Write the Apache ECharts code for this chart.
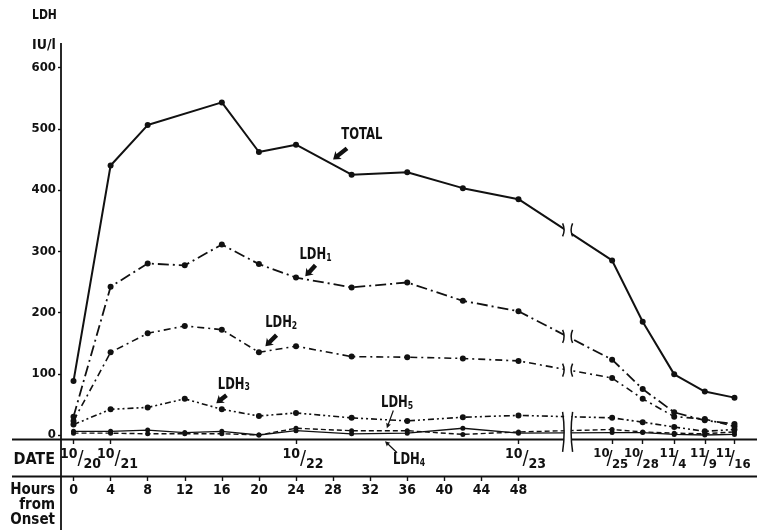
<!DOCTYPE html>
<html><head><meta charset="utf-8">
<script src="https://cdn.jsdelivr.net/npm/echarts@6/dist/echarts.min.js"></script>
<style>html,body{margin:0;padding:0;background:#fff}#c{width:757px;height:530px}</style>
</head><body><div id="c"></div>
<script>
// ---------- data ----------
// x positions in "hours from onset" units; dates after the axis break share the same scale
const sampleX = [0, 4, 8, 12, 16, 20, 24, 30, 36, 42, 48, 58.1, 61.4, 64.8, 68.1, 71.3];
const totalLDH = [88, 440, 506, null, 543, 462, 474, 425, 429, 403, 385, 285, 185, 99, 71, 61];
const ldh1 = [30, 242, 280, 277, 311, 279, 257, 241, 249, 219, 202, 123, 75, 37, 24, 18];
const ldh2 = [23, 135, 166, 178, 172, 135, 145, 128, 127, 125, 121, 93, 59, 30, 26, 14];
const ldh3 = [17, 42, 45, 59, 42, 31, 36, 28, 23, 29, 32, 28, 21, 13, 6, 9];
const ldh4 = [6, 6, 8, 4, 6, 0, 7, 2, 3, 11, 3, 4, 4, 1, 0, 1];
const ldh5 = [3, 3, 2, 2, 2, 0, 11, 7, 7, 1, 5, 9, 5, 3, 2, 5];

const hourTicks = [0, 4, 8, 12, 16, 20, 24, 28, 32, 36, 40, 44, 48];
const dateTickX = [0, 4, 24, 48, 58.1, 61.4, 64.8, 68.1, 71.3];
const dateLabels = ['10/20', '10/21', '10/22', '10/23', '10/25', '10/28', '11/4', '11/9', '11/16'];
const yTicks = [0, 100, 200, 300, 400, 500, 600];

// axis break position and the level of each line where it crosses the break
const breakX = 53.3;
const breakLevels = [335, 161, 106, 5];

// ---------- styles ----------
const measureCtx = document.createElement('canvas').getContext('2d');
function textWidth(font, t) { measureCtx.font = font; return measureCtx.measureText(t).width; }
function hasFont(name) {
  const t = 'TOTAL LDH 0123456789 Hours from Onset';
  const a = textWidth('40px monospace', t), b = textWidth("40px '" + name + "', monospace", t);
  const a2 = textWidth('40px serif', t), b2 = textWidth("40px '" + name + "', serif", t);
  return Math.abs(b - b2) < 0.5 && (Math.abs(b - a) > 0.5 || Math.abs(b2 - a2) > 0.5);
}
const condensed = ['Liberation Sans Narrow', 'DejaVu Sans Condensed', 'Roboto Condensed',
  'Open Sans Condensed', 'Noto Sans Condensed', 'Arial Narrow'].find(hasFont);
const FONT = condensed ? "'" + condensed + "',sans-serif" : "'Liberation Sans',sans-serif";
// squeeze for free-standing labels so that "TOTAL" is about as wide as in the reference
const SQUEEZE = Math.min(1, 41 / textWidth('bold 15px ' + FONT, 'TOTAL'));
const INK = '#111';
const breakHeights = [13, 13, 13, 40];
const X_MIN = -1.35, X_MAX = 73.73;

const chart = echarts.init(document.getElementById('c'), null, {renderer: 'canvas'});

function seriesData(vals) {
  const out = [];
  sampleX.forEach((x, i) => { if (vals[i] !== null) out.push([x, vals[i]]); });
  return out;
}
function line(name, vals, type, width, sym) {
  return {
    type: 'line', name, data: seriesData(vals), xAxisIndex: 0, yAxisIndex: 0,
    symbol: 'circle', symbolSize: sym, showSymbol: true, clip: false,
    itemStyle: {color: INK}, lineStyle: {color: INK, width, type},
    emphasis: {disabled: true}, z: 3
  };
}
function nearestIdx(arr, v) {
  let b = 0; arr.forEach((a, i) => { if (Math.abs(a - v) < Math.abs(arr[b] - v)) b = i; }); return b;
}
const richFrac = {
  na: {fontFamily: FONT, fontSize: 14, fontWeight: 'bold', color: INK, verticalAlign: 'top', lineHeight: 14, padding: [0, 0, 0, 14]},
  sa: {fontFamily: FONT, fontSize: 20, color: INK, lineHeight: 24, width: 6},
  da: {fontFamily: FONT, fontSize: 14, fontWeight: 'bold', color: INK, verticalAlign: 'bottom', lineHeight: 14},
  nb: {fontFamily: FONT, fontSize: 13, fontWeight: 'bold', color: INK, verticalAlign: 'top', lineHeight: 13, width: 11},
  sb: {fontFamily: FONT, fontSize: 20, color: INK, lineHeight: 24, width: 5},
  db: {fontFamily: FONT, fontSize: 13, fontWeight: 'bold', color: INK, verticalAlign: 'bottom', lineHeight: 13}
};
function fracFormatter(v) {
  const i = nearestIdx(dateTickX, v);
  const p = dateLabels[i].split('/');
  const k = i < 4 ? 'a' : 'b';
  return '{n' + k + '|' + p[0] + '}{s' + k + '|/}{d' + k + '|' + p[1] + '}';
}
// date labels are split over two stacked axes so that neighbours never suppress each other
function dateAxis(parity, withTicks) {
  const vals = dateTickX.filter((_, i) => i % 2 === parity);
  return {
    type: 'value', min: X_MIN, max: X_MAX, position: 'bottom', offset: 4,
    axisLine: {show: false, onZero: false}, splitLine: {show: false},
    axisTick: {show: withTicks, customValues: dateTickX, length: 5, lineStyle: {color: INK, width: 1.4}},
    axisLabel: {customValues: vals, margin: 8, showMinLabel: true, showMaxLabel: true, hideOverlap: false,
      formatter: fracFormatter, rich: richFrac}
  };
}

const option = {
  animation: false,
  backgroundColor: '#fff',
  grid: {left: 61, right: 0, top: 43, bottom: 95},
  xAxis: [
    dateAxis(0, true),
    { // hours-from-onset axis
      type: 'value', min: X_MIN, max: X_MAX, position: 'bottom', offset: 41,
      axisLine: {show: false, onZero: false}, splitLine: {show: false},
      axisTick: {show: true, customValues: hourTicks, length: 5, lineStyle: {color: INK, width: 1.4}},
      axisLabel: {customValues: hourTicks, margin: 7, fontFamily: FONT, fontSize: 14, fontWeight: 'bold', color: INK}
    },
    dateAxis(1, false)
  ],
  yAxis: {
    type: 'value', min: 0, max: 640,
    axisLine: {show: false, onZero: false}, splitLine: {show: false},
    axisTick: {show: true, customValues: yTicks, length: 3, lineStyle: {color: INK, width: 1.4}},
    axisLabel: {customValues: yTicks, margin: 5, fontFamily: FONT, fontSize: 13, fontWeight: 'bold', color: INK}
  },
  series: [
    line('TOTAL', totalLDH, 'solid', 2, 6),
    line('LDH1', ldh1, [11, 4, 2, 4], 1.8, 6),
    line('LDH2', ldh2, [7, 4, 2, 4], 1.6, 6),
    line('LDH3', ldh3, [6, 3, 2, 3, 2, 3], 1.6, 6),
    line('LDH4', ldh4, 'solid', 1.3, 5),
    line('LDH5', ldh5, [5, 3], 1.4, 5),
    {
      type: 'custom', name: 'break', xAxisIndex: 0, yAxisIndex: 0, z: 10, clip: false,
      data: breakLevels.map(v => [breakX, v]),
      renderItem: (params, api) => {
        const p = api.coord([api.value(0), api.value(1)]);
        const h = breakHeights[params.dataIndex] / 2;
        const x = p[0], y = p[1];
        return {
          type: 'group', children: [
            {type: 'rect', shape: {x: x - 3.5, y: y - h - 1, width: 7, height: 2 * h + 2},
             style: {fill: '#fff'}},
            {type: 'path', shape: {pathData: `M${x - 5} ${y - h} Q${x - 2} ${y} ${x - 5} ${y + h}`},
             style: {fill: 'none', stroke: INK, lineWidth: 1.5}},
            {type: 'path', shape: {pathData: `M${x + 5} ${y - h} Q${x + 2} ${y} ${x + 5} ${y + h}`},
             style: {fill: 'none', stroke: INK, lineWidth: 1.5}}
          ]
        };
      }
    }
  ]
};
chart.setOption(option);

// ---------- annotations in data coordinates ----------
const annotations = [
  {label: 'TOTAL', sub: '', at: [31.1, 490], tail: [29.5, 468], tip: [28.0, 450], bold: true},
  {label: 'LDH', sub: '1', at: [26.1, 294], tail: [26.1, 277], tip: [25.0, 259], bold: true},
  {label: 'LDH', sub: '2', at: [22.4, 183], tail: [21.9, 163], tip: [20.7, 145], bold: true},
  {label: 'LDH', sub: '3', at: [17.3, 82], tail: [16.5, 65], tip: [15.4, 52], bold: true},
  {label: 'LDH', sub: '5', at: [34.9, 52], tail: [34.5, 40], tip: [33.8, 11], bold: false},
  {label: 'LDH', sub: '4', at: [36.2, -41], tail: [34.9, -29], tip: [33.6, -10], bold: false}
];

function toPx(v) { return chart.convertToPixel({xAxisIndex: 0, yAxisIndex: 0}, v); }
function arrowShape(tail, tip, bold) {
  const dx = tip[0] - tail[0], dy = tip[1] - tail[1];
  const len = Math.hypot(dx, dy), c = dx / len, s = dy / len;
  const pts = bold
    ? [[0, 0], [-7, -5], [-6, -2.2], [-len, -2.2], [-len, 2.2], [-6, 2.2], [-7, 5]]
    : [[0, 0], [-5, -2.5], [-4.5, -0.6], [-len, -0.6], [-len, 0.6], [-4.5, 0.6], [-5, 2.5]];
  return pts.map(q => [tip[0] + q[0] * c - q[1] * s, tip[1] + q[0] * s + q[1] * c]);
}

const graphics = [];
// frame lines of the table under the plot
const axisY = 439.5, rowY = 476.5, leftX = 12, axisX = 61;
graphics.push({type: 'line', z: 1, shape: {x1: leftX, y1: axisY, x2: 757, y2: axisY}, style: {stroke: INK, lineWidth: 1.8}});
graphics.push({type: 'line', z: 1, shape: {x1: leftX, y1: rowY, x2: 757, y2: rowY}, style: {stroke: INK, lineWidth: 1.8}});
graphics.push({type: 'line', z: 1, shape: {x1: axisX, y1: 43, x2: axisX, y2: 530}, style: {stroke: INK, lineWidth: 1.8}});

function txt(text, x, y, size, align, weight, sq) {
  return {type: 'text', z: 5, x, y, scaleX: sq || 1, originX: 0, originY: 0,
    style: {text, x: 0, y: 0, fill: INK, align: align || 'left', verticalAlign: 'middle',
      font: (weight || 'normal') + ' ' + size + 'px ' + FONT}};
}
graphics.push(txt('LDH', 32, 15, 14, 'left', 'bold', SQUEEZE));
graphics.push(txt('IU/l', 32, 45, 14, 'left', 'bold'));
graphics.push(txt('DATE', 55, 460, 16, 'right', 'bold'));
graphics.push(txt('Hours', 55, 490, 15, 'right', 'bold'));
graphics.push(txt('from', 55, 505, 15, 'right', 'bold'));
graphics.push(txt('Onset', 55, 520, 15, 'right', 'bold'));

annotations.forEach(a => {
  const p = toPx(a.at), t = toPx(a.tail), h = toPx(a.tip);
  graphics.push({
    type: 'text', z: 5, x: p[0], y: p[1], scaleX: SQUEEZE,
    style: {
      text: a.sub ? '{m|' + a.label + '}{s|' + a.sub + '}' : '{m|' + a.label + '}',
      x: 0, y: 0, align: 'center', verticalAlign: 'middle',
      rich: {
        m: {fontFamily: FONT, fontSize: 15, fontWeight: 'bold', fill: INK, lineHeight: 16},
        s: {fontFamily: FONT, fontSize: 10, fontWeight: 'bold', fill: INK, lineHeight: 11, verticalAlign: 'bottom'}
      }
    }
  });
  graphics.push({type: 'polygon', z: 5, shape: {points: arrowShape(t, h, a.bold)}, style: {fill: INK}});
});

chart.setOption({graphic: graphics});
</script>
</body></html>
